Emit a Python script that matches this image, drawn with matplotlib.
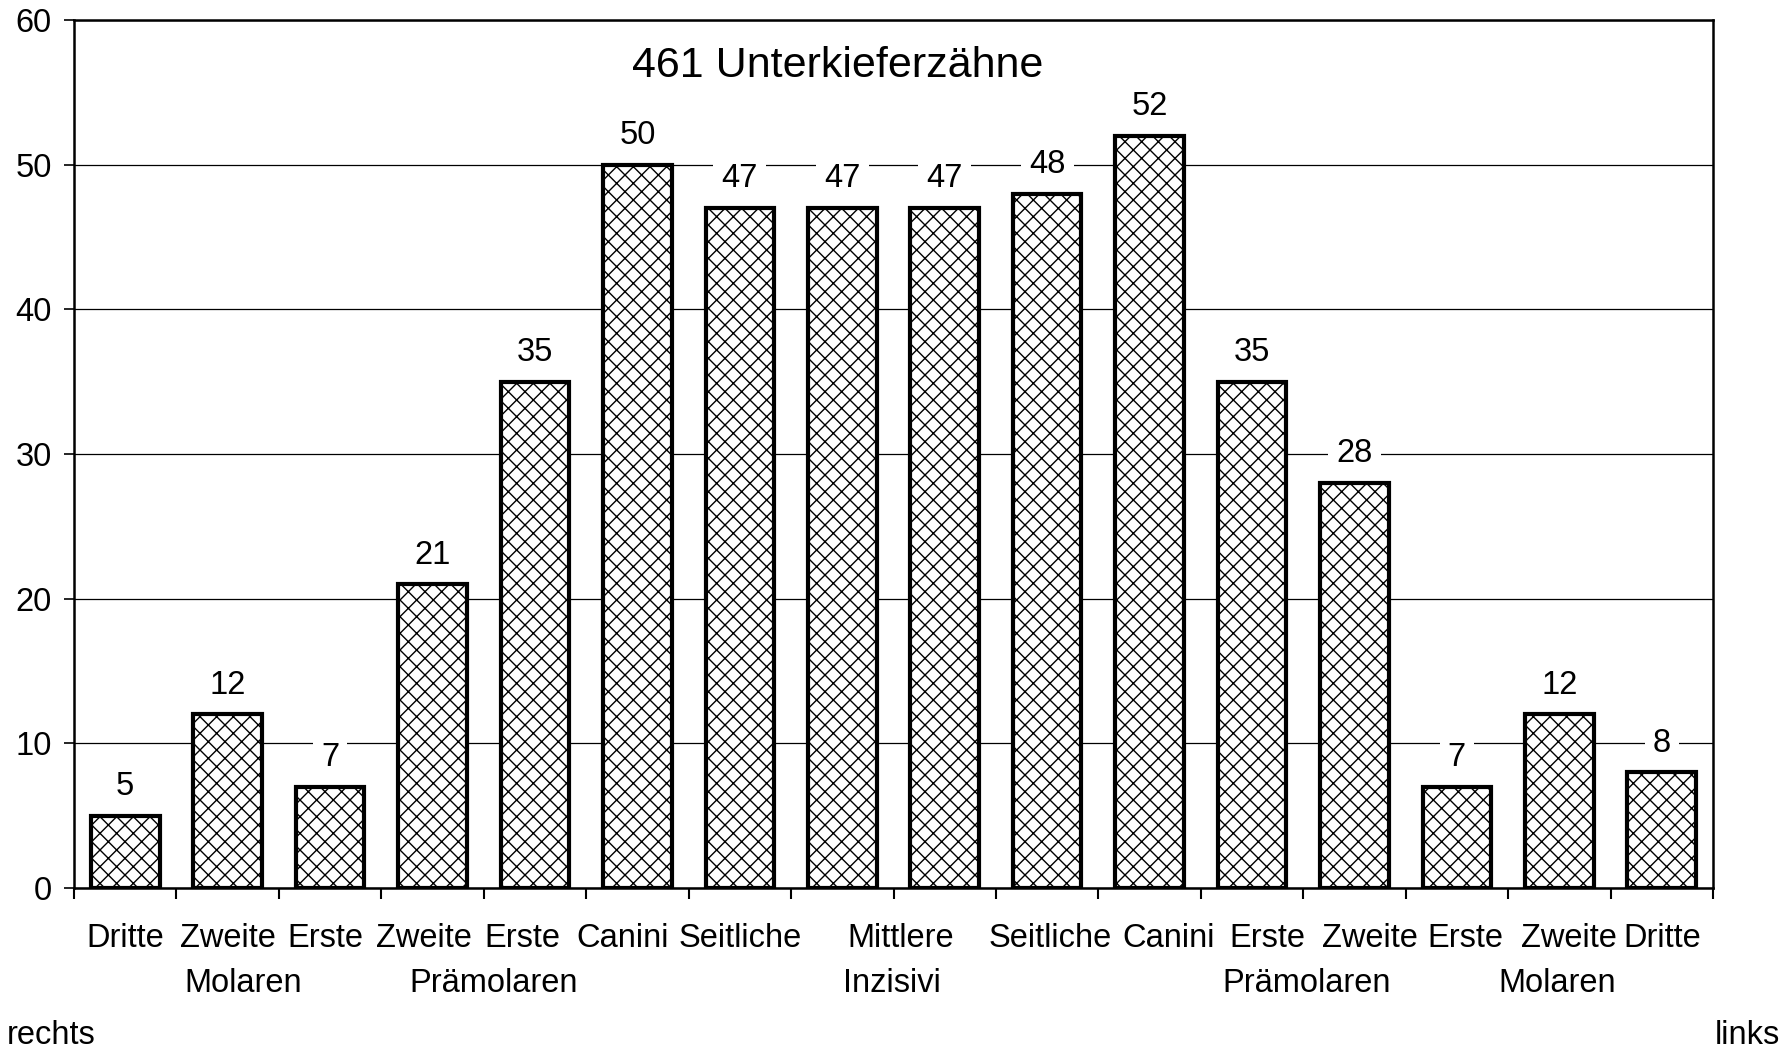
import matplotlib.pyplot as plt
import matplotlib.transforms as mtransforms

dpi = 100
s = 100 / dpi
plt.rcParams['font.family'] = ['Liberation Sans', 'DejaVu Sans']
plt.rcParams['hatch.linewidth'] = 1.0 * s

# bar values from right (rechts) to left (links)
values = [5, 12, 7, 21, 35, 50, 47, 47, 47, 48, 52, 35, 28, 7, 12, 8]
row1_labels = ['Dritte', 'Zweite', 'Erste', 'Zweite', 'Erste', 'Canini', 'Seitliche', '', '',
               'Seitliche', 'Canini', 'Erste', 'Zweite', 'Erste', 'Zweite', 'Dritte']
# group labels: (text, bar position, row)
group_labels = [('Molaren', 1.15, 2), ('Prämolaren', 3.6, 2), ('Mittlere', 7.57, 1),
                ('Inzisivi', 7.48, 2), ('Prämolaren', 11.53, 2), ('Molaren', 13.98, 2)]
title = '461 Unterkieferzähne'

# small horizontal nudges of the first label row, as in the original
row1_shift = [0, 0, -0.05, -0.08, -0.12, -0.14, 0.0, 0, 0, 0.03, 0.19, 0.15, 0.15, 0.08, 0.09, 0]

fig = plt.figure(figsize=(1787 / dpi, 1051 / dpi), dpi=dpi)
ax = fig.add_axes([0.0414, 0.155, 0.9172, 0.826])

x = list(range(len(values)))
ax.bar(x, values, width=0.67, color='white', edgecolor='black',
       linewidth=3 * s, hatch='xx', zorder=3)

fs = 23.5 * s
for xi, v in zip(x, values):
    ax.annotate(str(v), (xi, v), xytext=(0, 21 * s), textcoords='offset points',
                ha='center', va='center', fontsize=fs, zorder=4,
                bbox=dict(boxstyle='square,pad=0.25', fc='white', ec='none'))

ax.set_xlim(-0.5, len(values) - 0.5)
ax.set_ylim(0, 60)
ax.set_yticks(range(0, 61, 10))
ax.yaxis.grid(True, color='black', linewidth=0.9 * s, zorder=0)
ax.tick_params(axis='y', labelsize=fs, length=7 * s, width=1.2 * s, pad=9 * s)
ax.set_xticks([i - 0.5 for i in range(len(values) + 1)])
ax.set_xticklabels([])
ax.tick_params(axis='x', length=8 * s, width=1.5 * s)
for sp in ax.spines.values():
    sp.set_linewidth(1.8 * s)

trans = mtransforms.blended_transform_factory(ax.transData, fig.transFigure)
row_y = {1: 0.107, 2: 0.064}
for xi, lab, dx in zip(x, row1_labels, row1_shift):
    if lab:
        ax.text(xi + dx, row_y[1], lab, transform=trans, ha='center', va='center', fontsize=fs)
for lab, pos, row in group_labels:
    ax.text(pos, row_y[row], lab, transform=trans, ha='center', va='center', fontsize=fs)

fig.text(0.004, 0.0145, 'rechts', ha='left', va='center', fontsize=fs)
fig.text(0.996, 0.0145, 'links', ha='right', va='center', fontsize=fs)
ax.text(0.466, 0.947, title, transform=ax.transAxes, ha='center', va='center', fontsize=31 * s)

fig.savefig('out.png', dpi=dpi)
